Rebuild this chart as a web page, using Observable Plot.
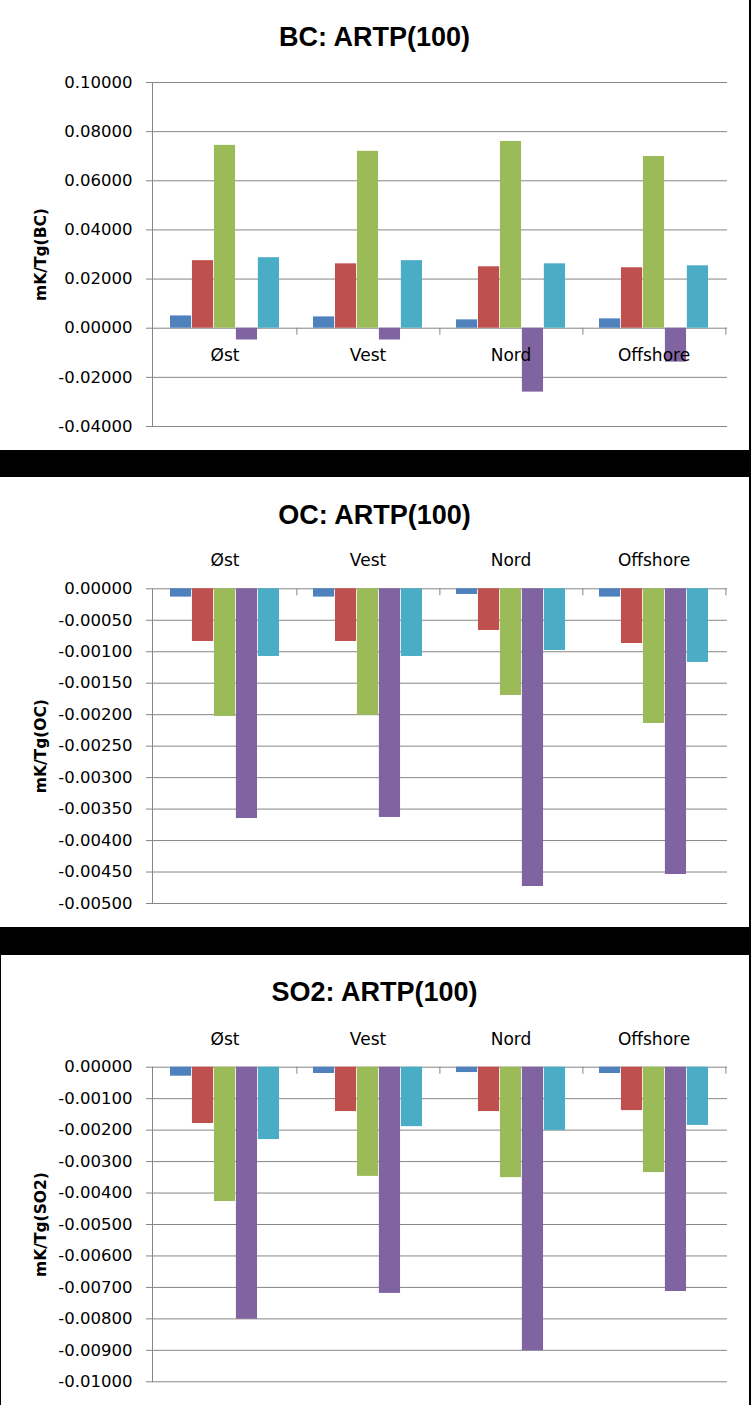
<!DOCTYPE html>
<html><head><meta charset="utf-8">
<script src="https://cdn.jsdelivr.net/npm/d3@7"></script>
<script src="https://cdn.jsdelivr.net/npm/@observablehq/plot@0.6"></script>
<style>
html,body{margin:0;padding:0;background:#000;}
#root{position:relative;width:751px;height:1405px;background:#000;overflow:hidden;}
.panel{position:absolute;background:#fff;}
.title{position:absolute;font-family:"Liberation Sans",Arial,sans-serif;font-weight:bold;font-size:27px;line-height:27px;text-align:center;color:#000;white-space:nowrap;}
.chart{position:absolute;left:0;}
g[aria-label="y-axis tick"] path{stroke:#868686;}
</style></head>
<body><div id="root"></div>
<script>
// ---- data ----
const categories = ["Øst", "Vest", "Nord", "Offshore"];
const seriesNames = ["Serie 1", "Serie 2", "Serie 3", "Serie 4", "Serie 5"];
const seriesColors = ["#4F81BD", "#C0504D", "#9BBB59", "#8064A2", "#4BACC6"];

// BC: ARTP(100), one row per series, values per category
const bcValues = [
  [0.0050, 0.0046, 0.0034, 0.0038],
  [0.0275, 0.0262, 0.0250, 0.0246],
  [0.0744, 0.0720, 0.0760, 0.0699],
  [-0.0048, -0.0048, -0.0260, -0.0138],
  [0.0287, 0.0275, 0.0262, 0.0254]
];
const bcTicks = [0.10, 0.08, 0.06, 0.04, 0.02, 0.00, -0.02, -0.04];

// OC: ARTP(100)
const ocValues = [
  [-0.000132, -0.000132, -0.000090, -0.000132],
  [-0.000837, -0.000837, -0.000662, -0.000869],
  [-0.002028, -0.002010, -0.001695, -0.002140],
  [-0.003650, -0.003633, -0.004730, -0.004539],
  [-0.001075, -0.001075, -0.000980, -0.001170]
];
const ocTicks = [0, -0.0005, -0.001, -0.0015, -0.002, -0.0025, -0.003, -0.0035, -0.004, -0.0045, -0.005];

// SO2: ARTP(100)
const so2Values = [
  [-0.000286, -0.000200, -0.000170, -0.000200],
  [-0.001790, -0.001410, -0.001410, -0.001380],
  [-0.004270, -0.003470, -0.003510, -0.003350],
  [-0.008010, -0.007190, -0.009010, -0.007130],
  [-0.002300, -0.001890, -0.002010, -0.001850]
];
const so2Ticks = [0, -0.001, -0.002, -0.003, -0.004, -0.005, -0.006, -0.007, -0.008, -0.009, -0.01];

// ---- drawing ----
const grid = "#868686";
const root = document.getElementById("root");
const W = 749, H = 390, ML = 152, MR = 22;
const padInner = 0.236, padOuter = 0.118;
const step = (W - ML - MR) / categories.length;
const barW = step * (1 - padInner) / seriesNames.length;

function panel(o) {
  const p = document.createElement("div");
  p.className = "panel";
  Object.assign(p.style, {top: o.top + "px", left: o.left + "px", width: o.width + "px", height: "450px"});
  root.appendChild(p);

  const t = document.createElement("div");
  t.className = "title";
  t.textContent = o.title;
  Object.assign(t.style, {top: (o.top + o.titleTop) + "px", left: "0px", width: "749px"});
  root.appendChild(t);

  const rows = [];
  seriesNames.forEach((s, i) => categories.forEach((c, j) => rows.push({category: c, series: s, value: o.values[i][j]})));

  const svg = Plot.plot({
    width: W, height: H,
    marginLeft: ML, marginRight: MR, marginTop: o.marginTop, marginBottom: o.marginBottom,
    style: {background: "transparent", overflow: "visible"},
    x: {type: "band", domain: categories, paddingInner: padInner, paddingOuter: padOuter, align: 0.5, axis: null},
    y: {domain: o.domain, axis: null},
    marks: [
      Plot.ruleY(o.ticks, {stroke: grid, strokeWidth: 1}),
      Plot.frame({anchor: "left", stroke: grid}),
      Plot.ruleX(categories, {x: d => d, y1: 0, y2: 0, insetBottom: -7, dx: step / 2, stroke: grid}),
      ...seriesNames.map((s, i) => Plot.barY(rows.filter(d => d.series === s), {
        x: "category", y: "value", fill: seriesColors[i],
        insetLeft: i * barW, insetRight: (seriesNames.length - 1 - i) * barW
      })),
      Plot.text(categories, {x: d => d, y: 0, text: d => d, dy: o.labelDy, fontSize: 17, fontFamily: "DejaVu Sans", fill: "#000"}),
      Plot.axisY({ticks: o.ticks, tickFormat: d => d.toFixed(5), tickSize: 6, tickPadding: 14, fontSize: 16.5, fontFamily: "DejaVu Sans", label: null}),
      Plot.text([o.ylabel], {frameAnchor: "left", textAnchor: "middle", text: d => d, rotate: -90, dx: -111, fontWeight: "bold", fontSize: 15.5, fontFamily: "DejaVu Sans", fill: "#000"})
    ]
  });
  const wrap = document.createElement("div");
  wrap.className = "chart";
  wrap.style.top = (o.top + 60) + "px";
  wrap.appendChild(svg);
  root.appendChild(wrap);
}

panel({top: 0, left: 0, width: 749, title: "BC: ARTP(100)", titleTop: 24, ylabel: "mK/Tg(BC)",
  domain: [-0.04, 0.10], ticks: bcTicks, values: bcValues, labelDy: 27, marginTop: 22, marginBottom: 24});
panel({top: 477, left: 0, width: 749, title: "OC: ARTP(100)", titleTop: 25, ylabel: "mK/Tg(OC)",
  domain: [-0.005, 0], ticks: ocTicks, values: ocValues, labelDy: -28, marginTop: 51.3, marginBottom: 24});
panel({top: 955, left: 1, width: 748, title: "SO2: ARTP(100)", titleTop: 24, ylabel: "mK/Tg(SO2)",
  domain: [-0.01, 0], ticks: so2Ticks, values: so2Values, labelDy: -27.5, marginTop: 51.7, marginBottom: 23.7});
</script>
</body></html>
